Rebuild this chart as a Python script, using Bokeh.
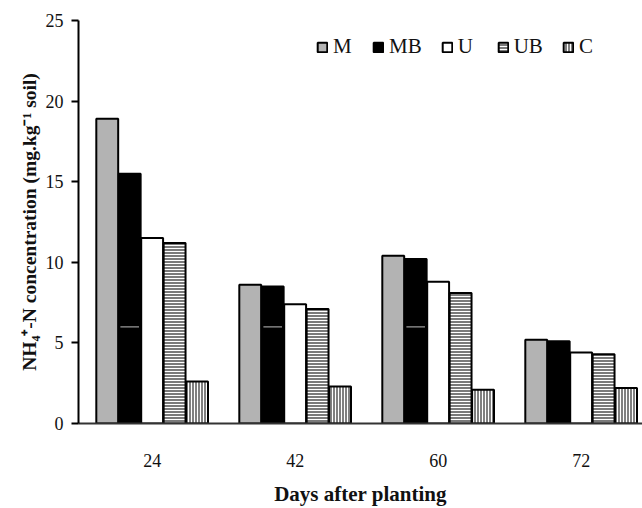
from bokeh.plotting import figure
from bokeh.models import Range1d, FixedTicker, Legend, LegendItem, ColumnDataSource
from bokeh.embed import file_html
from bokeh.resources import INLINE

days = ["24", "42", "60", "72"]
series = ["M", "MB", "U", "UB", "C"]
M = [18.9, 8.6, 10.4, 5.2]
MB = [15.5, 8.5, 10.2, 5.1]
U = [11.5, 7.4, 8.8, 4.4]
UB = [11.2, 7.1, 8.1, 4.3]
C = [2.6, 2.3, 2.1, 2.2]
mb_mark = [6.0, 6.0, 6.0, None]
y_ticks = [0, 5, 10, 15, 20, 25]

values = {"M": M, "MB": MB, "U": U, "UB": UB, "C": C}
styles = {
    "M": dict(fill_color="#b3b3b3"),
    "MB": dict(fill_color="#000000"),
    "U": dict(fill_color="#ffffff"),
    "UB": dict(fill_color="#7a7a7a", hatch_pattern="-", hatch_color="#ffffff",
               hatch_scale=3, hatch_weight=1),
    "C": dict(fill_color="#808080", hatch_pattern="|", hatch_color="#ffffff",
              hatch_scale=3, hatch_weight=1),
}

FONT = "Liberation Serif"
px_per_unit = 143.0
frame_w = 642 - 78

p = figure(width=642, height=508, output_backend="svg", toolbar_location=None,
           x_range=Range1d(-0.015, -0.015 + frame_w / px_per_unit), y_range=Range1d(0, 25),
           min_border_left=78, min_border_right=0, min_border_top=20, min_border_bottom=82)
p.outline_line_color = None
p.grid.visible = False
p.background_fill_color = "white"
p.border_fill_color = "white"

bar_w = 0.153
step = 0.157
offsets = [-2 * step, -step, 0, step, 2 * step]
centers = [i + 0.5 for i in range(len(days))]

items = []
for s, off in zip(series, offsets):
    src = ColumnDataSource(dict(x=[c + off for c in centers], top=values[s]))
    r = p.vbar(x="x", top="top", width=bar_w, bottom=0, source=src,
               line_color="black", line_width=2, **styles[s])
    items.append(LegendItem(label=s, renderers=[r]))

# small grey marks visible on MB bars
mx, my = [], []
for c, v in zip(centers, mb_mark):
    if v is not None:
        mx.append(c + offsets[1])
        my.append(v)
p.rect(x=mx, y=my, width=0.13, height=0.08, fill_color="#9a9a9a", line_color=None)

# axes
xa = p.xaxis[0]
xa.ticker = FixedTicker(ticks=centers)
xa.major_label_overrides = {c: d for c, d in zip(centers, days)}
xa.major_tick_line_color = None
xa.minor_tick_line_color = None
xa.axis_line_color = "#333333"
xa.axis_line_width = 2
xa.major_label_standoff = 24
xa.major_label_text_font = FONT
xa.major_label_text_font_size = "18px"
xa.major_label_text_color = "#111111"
xa.axis_label = "Days after planting"
xa.axis_label_text_font = FONT
xa.axis_label_text_font_style = "bold"
xa.axis_label_text_font_size = "21px"
xa.axis_label_text_color = "#111111"
xa.axis_label_standoff = 12

ya = p.yaxis[0]
ya.ticker = FixedTicker(ticks=y_ticks)
ya.minor_tick_line_color = None
ya.major_tick_in = 0
ya.major_tick_out = 7
ya.major_tick_line_width = 2
ya.axis_line_width = 2
ya.axis_line_color = "black"
ya.major_label_standoff = 8
ya.major_label_text_font = FONT
ya.major_label_text_font_size = "18px"
ya.major_label_text_color = "#111111"
ya.axis_label = "NH\u2084\u207a-N concentration (mg.kg\u207b\u00b9 soil)"
ya.axis_label_text_font = FONT
ya.axis_label_text_font_style = "bold"
ya.axis_label_text_font_size = "19.5px"
ya.axis_label_text_color = "#111111"
ya.axis_label_standoff = 3

legend = Legend(items=items, orientation="horizontal", location=(238, 364),
                glyph_width=12, glyph_height=12, label_standoff=5, spacing=19,
                padding=0, margin=0, border_line_color=None, background_fill_alpha=0,
                label_text_font=FONT, label_text_font_size="21px",
                label_text_color="#111111")
p.add_layout(legend, "center")

open("out.html", "w").write(file_html(p, INLINE))
